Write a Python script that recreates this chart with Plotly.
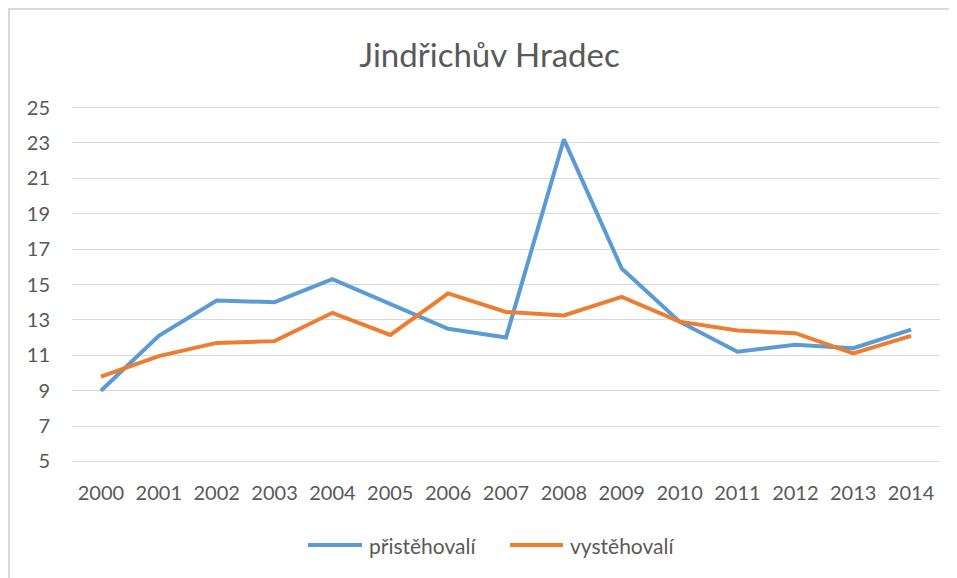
import plotly.graph_objects as go

years = ["2000", "2001", "2002", "2003", "2004", "2005", "2006", "2007",
         "2008", "2009", "2010", "2011", "2012", "2013", "2014"]
pristehovali = [9.0, 12.1, 14.1, 14.0, 15.3, 13.9, 12.5, 12.0,
                23.2, 15.9, 12.9, 11.2, 11.6, 11.4, 12.45]
vystehovali = [9.8, 10.95, 11.7, 11.8, 13.4, 12.15, 14.5, 13.45,
               13.25, 14.3, 12.9, 12.4, 12.25, 11.1, 12.1]
series_names = ["přistěhovalí", "vystěhovalí"]
colors = ["#5B9BD5", "#ED7D31"]
y_ticks = [5, 7, 9, 11, 13, 15, 17, 19, 21, 23, 25]

FONT = "Lato"
GRAY = "#595959"

# page body has an 8px offset; figure is sized to the visible area
W, H = 949, 570
L, R, T, B = 64, 17, 96, 113
PW = W - L - R
PH = H - T - B


def px(x):
    return (x - L) / PW


def py(y):
    return (H - B - y) / PH


fig = go.Figure()
for name, vals, col in zip(series_names, [pristehovali, vystehovali], colors):
    fig.add_trace(go.Scatter(
        x=years, y=vals, name=name, mode="lines",
        line=dict(color=col, width=4), showlegend=False,
    ))

# manual legend (longer sample lines like the original)
legend_items = [(300, 354, 359), (502, 555, 560)]
shapes = [dict(type="path", xref="paper", yref="paper",
               path=f"M {px(1)},-1 L {px(1)},{py(1)} L 1.5,{py(1)}",
               line=dict(color="#d9d9d9", width=2), layer="below")]
annotations = []
for (x0, x1, xt), name, col in zip(legend_items, series_names, colors):
    shapes.append(dict(type="line", xref="paper", yref="paper",
                       x0=px(x0), x1=px(x1), y0=py(537), y1=py(537),
                       line=dict(color=col, width=4)))
    annotations.append(dict(text=name, xref="paper", yref="paper",
                            x=px(xt), y=py(537), xanchor="left",
                            yanchor="middle", showarrow=False,
                            font=dict(family=FONT, size=21, color=GRAY)))

fig.update_layout(
    width=W, height=H, autosize=False,
    margin=dict(l=L, r=R, t=T, b=B, autoexpand=False),
    paper_bgcolor="white", plot_bgcolor="white",
    font=dict(family=FONT, color=GRAY),
    title=dict(text="Jindřichův Hradec", x=481.5 / W, y=1 - 47 / H,
               xref="container", yref="container",
               xanchor="center", yanchor="middle",
               font=dict(family=FONT, size=33, color=GRAY)),
    showlegend=False,
    xaxis=dict(type="category", range=[-0.5, 14.5], showgrid=False,
               showline=False, zeroline=False, tickangle=0,
               ticks="outside", ticklen=10, tickcolor="rgba(0,0,0,0)",
               tickfont=dict(family=FONT, size=20, color=GRAY)),
    yaxis=dict(range=[4.8, 25.2], tickvals=y_ticks, showgrid=True,
               gridcolor="#d9d9d9", gridwidth=1, zeroline=False,
               showline=False,
               ticks="outside", ticklen=17, tickcolor="rgba(0,0,0,0)",
               tickfont=dict(family=FONT, size=20, color=GRAY)),
    shapes=shapes,
    annotations=annotations,
)

fig.write_html("out.html")
